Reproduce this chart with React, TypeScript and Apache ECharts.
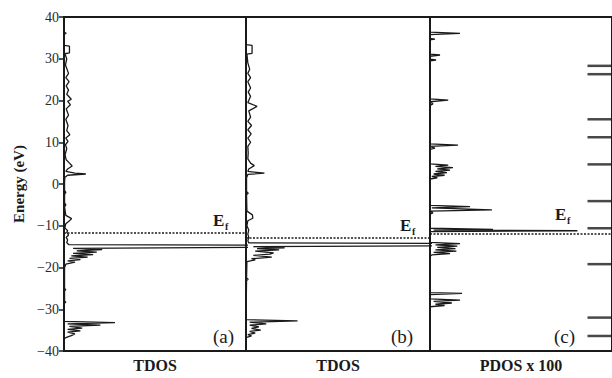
import React, { useEffect, useRef } from "react";
import * as echarts from "echarts";

// [energy (eV), DOS (arb. units, 0-100 = panel width)]
const tdosA: [number, number][] = [
  [40, 0], [36.4, 0], [36.1, 1.2], [35.8, 0], [33.2, 0], [33.0, 3], [31.4, 3], [31.2, 0.5],
  [30.0, 1.5], [28.5, 0.8], [26.5, 2.5], [25.5, 1], [24.5, 2.8], [23.5, 1.2], [22.5, 2.5],
  [21.5, 1.5], [20.3, 4], [19.8, 2], [19.0, 3.5], [18.0, 1.2], [16.5, 2.5], [15.5, 1],
  [14.0, 2.2], [12.8, 1.5], [11.8, 3.2], [11.0, 1], [10.2, 2.2], [9.4, 0.8], [8.5, 1.5],
  [7.0, 0.6], [5.8, 1.2], [5.0, 3], [4.3, 4.5], [3.6, 2], [3.0, 1], [2.6, 6], [2.4, 12],
  [2.1, 2], [1.6, 0.5], [0.5, 0.3], [-1.5, 0.3], [-2.0, 1], [-2.5, 0.3], [-4.5, 0.3],
  [-5.0, 1], [-5.5, 0.3], [-7.5, 1], [-8.3, 4.2], [-8.8, 3], [-9.5, 1], [-10.5, 0.5],
  [-11.2, 2], [-11.6, 1.5], [-12.2, 2.5], [-12.8, 1.2], [-13.4, 2], [-14.0, 1.5],
  [-14.5, 2.5], [-14.7, 150], [-15.1, 150], [-15.4, 5], [-15.7, 21], [-16.0, 7],
  [-16.3, 18], [-16.6, 5], [-16.9, 16], [-17.2, 4], [-17.5, 13], [-17.8, 3], [-18.1, 9],
  [-18.4, 2], [-18.7, 6], [-19.2, 1], [-20, 0.3], [-25.0, 0.3], [-25.3, 1], [-25.6, 0.3],
  [-28.0, 0.3], [-28.3, 1], [-28.6, 0], [-32.9, 0], [-33.2, 28], [-33.5, 2], [-33.8, 20],
  [-34.1, 3], [-34.5, 10], [-34.8, 2], [-35.2, 9], [-35.5, 2], [-35.9, 6], [-36.3, 4],
  [-36.8, 1], [-37.2, 0], [-40, 0],
];

const tdosB: [number, number][] = [
  [40, 0], [33.4, 0], [33.2, 3.3], [31.3, 3.3], [31.1, 0.5], [29, 1], [27.5, 2], [26.5, 1],
  [25.5, 2.5], [24.5, 1], [23, 2.5], [22, 1.2], [21, 2.5], [19.5, 1], [18.6, 6], [17.5, 1.5],
  [16, 2.5], [15, 1], [14, 3], [13, 1], [12, 2.8], [11, 1], [10, 2.5], [9, 1], [7.5, 1.2],
  [6, 1], [5, 2.5], [4.4, 4.5], [3.6, 1.5], [3, 1], [2.6, 10], [2.3, 1], [1.5, 0.3],
  [-1.8, 0.3], [-2.2, 1.2], [-2.6, 0.3], [-6.5, 0.5], [-7.4, 3.5], [-8.2, 3.7], [-8.8, 1],
  [-10, 0.5], [-11, 1.5], [-12, 1], [-12.8, 1.5], [-13.6, 1], [-14.1, 1.5], [-14.3, 150],
  [-14.7, 150], [-15.0, 4], [-15.3, 21], [-15.5, 6], [-15.8, 18], [-16.1, 5], [-16.5, 15],
  [-16.8, 13], [-17.1, 4], [-17.5, 14], [-17.9, 3], [-18.2, 5], [-18.6, 0.5], [-22.5, 0.3],
  [-22.8, 1.2], [-23.1, 0.3], [-32.5, 0], [-32.8, 28], [-33.1, 2], [-33.5, 11], [-33.8, 2],
  [-34.2, 7], [-34.6, 3], [-35, 8], [-35.3, 2], [-35.7, 5], [-36.1, 1], [-36.4, 3],
  [-36.8, 0], [-40, 0],
];

const pdosC: [number, number][] = [
  [40, 0], [36.4, 0], [36.1, 16.5], [35.8, 0], [34.9, 0], [34.7, 2.7], [34.5, 0], [31.1, 0],
  [30.9, 5.5], [30.6, 0], [29.9, 0], [29.7, 3.3], [29.5, 0], [20.4, 0], [20.1, 10], [19.7, 0],
  [19.2, 1.6], [18.8, 0], [9.6, 0], [9.3, 15.4], [9.0, 0], [8.6, 2.7], [8.3, 0], [4.8, 0],
  [4.5, 10], [4.2, 3], [3.9, 12.6], [3.6, 4], [3.3, 11], [3.0, 3], [2.7, 9.3], [2.4, 2],
  [2.1, 8], [1.8, 1], [1.5, 4], [1.2, 0], [-5.1, 0], [-5.4, 22], [-5.7, 1], [-6.2, 34],
  [-6.5, 0], [-6.9, 1.6], [-7.2, 0], [-10.6, 0], [-10.9, 34.6], [-11.05, 2], [-11.2, 81],
  [-11.4, 0], [-14.0, 0], [-14.3, 16.5], [-14.6, 3], [-14.9, 15], [-15.2, 4], [-15.5, 14],
  [-15.8, 3], [-16.1, 14.5], [-16.4, 2], [-16.7, 11], [-17.0, 1], [-17.3, 0], [-26.0, 0],
  [-26.2, 17.6], [-26.5, 0], [-27.5, 0], [-27.8, 16.5], [-28.1, 2], [-28.5, 12], [-28.8, 3],
  [-29.1, 8], [-29.4, 0], [-40, 0],
];

const levelsC = [28.3, 26.3, 15.5, 11.2, 4.7, -4.1, -10.6, -19.2, -32.0, -36.4];
const fermiLevels = [-11.7, -12.8, -11.8];
const panelTags = ["(a)", "(b)", "(c)"];
const xNames = ["TDOS", "TDOS", "PDOS x 100"];
const yName = "Energy (eV)";

const SERIF = "'Liberation Serif', 'DejaVu Serif', serif";
const INK = "#1a1a1a";

export default function App() {
  const ref = useRef<HTMLDivElement>(null);
  useEffect(() => {
    if (!ref.current) return;
    const chart = echarts.init(ref.current, null, { renderer: "svg" });
    const panels = [tdosA, tdosB, pdosC];
    const gridBoxes = [
      { left: 64, width: 182 },
      { left: 246, width: 184 },
      { left: 430, width: 182 },
    ];
    const grid = gridBoxes.map((g) => ({
      left: g.left,
      width: g.width,
      top: 17,
      height: 334,
      show: true,
      borderColor: INK,
      borderWidth: 2,
      backgroundColor: "transparent",
    }));
    const xAxis = xNames.map((n, i) => ({
      type: "value",
      gridIndex: i,
      min: 0,
      max: 100,
      axisLine: { show: false },
      axisTick: { show: false },
      axisLabel: { show: false },
      splitLine: { show: false },
      name: n,
      nameLocation: "middle",
      nameGap: 6,
      nameTextStyle: {
        fontFamily: SERIF,
        fontWeight: "bold",
        fontSize: 16,
        color: INK,
        verticalAlign: "top",
      },
    }));
    const yAxis = [0, 1, 2].map((i) => ({
      type: "value",
      gridIndex: i,
      min: -40,
      max: 40,
      interval: 10,
      axisLine: { show: i === 0, lineStyle: { color: INK, width: 2 } },
      axisTick: { show: i === 0, length: 5, lineStyle: { color: INK, width: 1.5 } },
      axisLabel: {
        show: i === 0,
        fontFamily: SERIF,
        fontSize: 14,
        color: "#2a2a2a",
        margin: 5,
        formatter: (v: number) => String(v).replace("-", "\u2212"),
      },
      splitLine: { show: false },
      name: i === 0 ? yName : "",
      nameLocation: "middle",
      nameGap: 38,
      nameTextStyle: {
        fontFamily: SERIF,
        fontWeight: "bold",
        fontSize: 15,
        color: INK,
      },
    }));
    const series: any[] = panels.map((p, i) => ({
      type: "line",
      xAxisIndex: i,
      yAxisIndex: i,
      data: p.map(([e, d]) => [d, e]),
      showSymbol: false,
      symbol: "none",
      clip: true,
      lineStyle: { color: INK, width: 1.3 },
      markLine: {
        silent: true,
        symbol: "none",
        label: { show: false },
        lineStyle: { color: INK, width: 1.5, type: [2, 1.5] },
        data: [{ yAxis: fermiLevels[i] }],
      },
    }));
    series.push({
      type: "scatter",
      xAxisIndex: 2,
      yAxisIndex: 2,
      data: levelsC.map((e) => [93.4, e]),
      symbol: "rect",
      symbolSize: [25, 2.5],
      itemStyle: { color: INK },
      silent: true,
    });
    const efLabel = (x: number, y: number) => [
      {
        type: "text",
        left: x,
        top: y,
        style: { text: "E", fontFamily: SERIF, fontWeight: "bold", fontSize: 17, fill: INK },
      },
      {
        type: "text",
        left: x + 12,
        top: y + 9,
        style: { text: "f", fontFamily: SERIF, fontWeight: "bold", fontSize: 10, fill: INK },
      },
    ];
    const tags = panelTags.map((t, i) => ({
      type: "text",
      left: [213, 391, 554][i],
      top: 327,
      style: { text: t, fontFamily: SERIF, fontSize: 19, fill: INK },
    }));
    chart.setOption({
      animation: false,
      backgroundColor: "#fff",
      grid,
      xAxis,
      yAxis,
      series,
      graphic: [...efLabel(213, 212), ...efLabel(400, 217), ...efLabel(555, 206), ...tags],
    });
    return () => chart.dispose();
  }, []);
  return <div ref={ref} style={{ width: 612, height: 378, position: "absolute", left: 0, top: 0 }} />;
}
